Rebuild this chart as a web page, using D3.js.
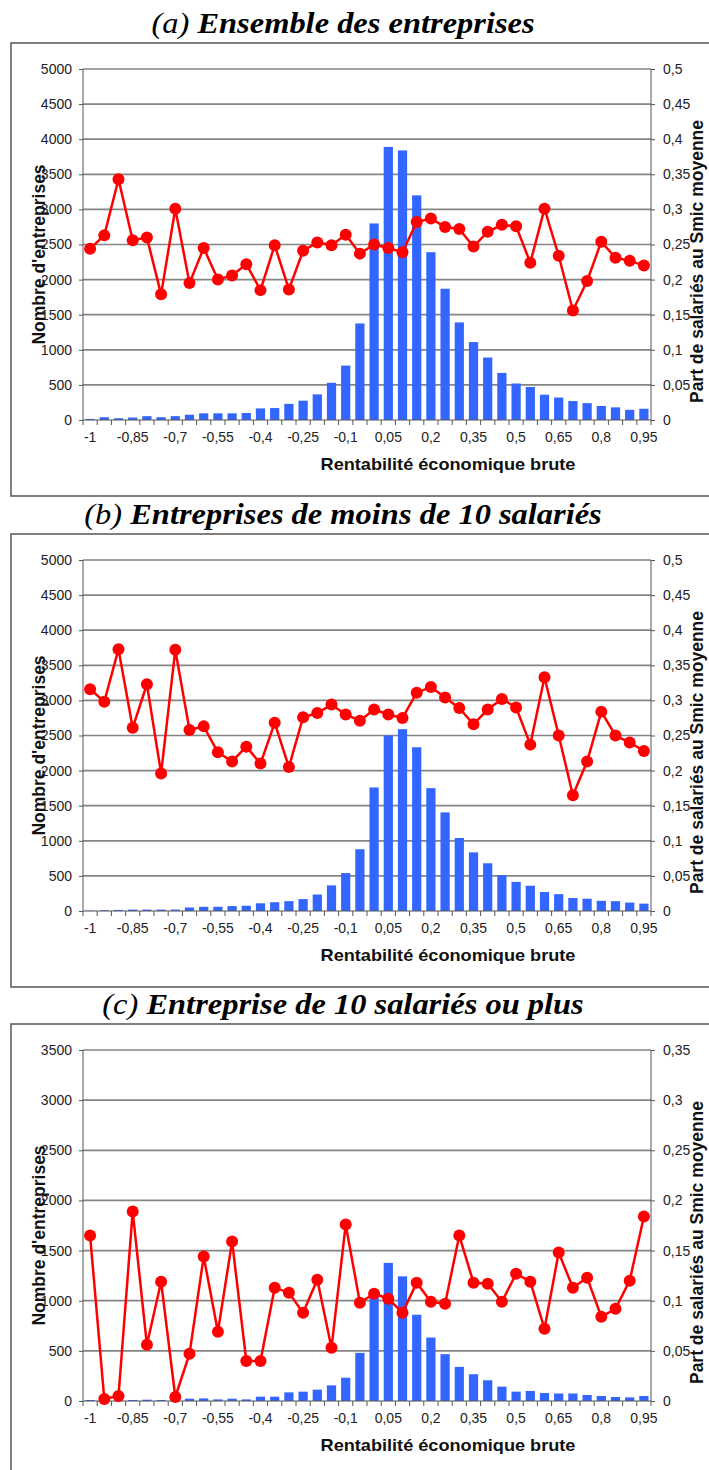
<!DOCTYPE html>
<html>
<head>
<meta charset="utf-8">
<script src="https://cdn.jsdelivr.net/npm/d3@7"></script>
<style>
  body { margin: 0; background: #fff; }
  svg { display: block; }
</style>
</head>
<body>
<div id="chart"></div>
<script>
// categories of gross economic return
var categories = ["-1", "-0,95", "-0,9", "-0,85", "-0,8", "-0,75", "-0,7", "-0,65", "-0,6", "-0,55",
    "-0,5", "-0,45", "-0,4", "-0,35", "-0,3", "-0,25", "-0,2", "-0,15", "-0,1", "-0,05",
    "0", "0,05", "0,1", "0,15", "0,2", "0,25", "0,3", "0,35", "0,4", "0,45",
    "0,5", "0,55", "0,6", "0,65", "0,7", "0,75", "0,8", "0,85", "0,9", "0,95"];

var xTickLabels = ["-1", "-0,85", "-0,7", "-0,55", "-0,4", "-0,25", "-0,1", "0,05", "0,2", "0,35", "0,5", "0,65", "0,8", "0,95"];

// (a) all firms
var barsAll = [15, 40, 25, 35, 55, 40, 55, 75, 95, 95, 95, 100, 165, 170, 230, 275, 365, 530, 775, 1375,
    2800, 3890, 3840, 3200, 2390, 1870, 1390, 1110, 890, 670, 520, 470, 360, 320, 270, 240, 200, 180, 145, 160];
var lineAll = [0.244, 0.263, 0.343, 0.256, 0.260, 0.179, 0.301, 0.195, 0.245, 0.200, 0.206, 0.222, 0.185, 0.249, 0.186, 0.241, 0.253, 0.249, 0.264, 0.237,
    0.250, 0.245, 0.239, 0.282, 0.287, 0.275, 0.272, 0.247, 0.268, 0.278, 0.276, 0.224, 0.301, 0.234, 0.156, 0.198, 0.254, 0.231, 0.227, 0.220];

// (b) less than 10 employees
var barsSmall = [5, 10, 15, 20, 20, 20, 20, 50, 60, 60, 70, 75, 110, 125, 140, 170, 235, 365, 540, 880,
    1760, 2500, 2590, 2333, 1750, 1405, 1040, 835, 680, 510, 415, 360, 270, 240, 185, 175, 145, 140, 120, 105];
var lineSmall = [0.316, 0.298, 0.373, 0.261, 0.323, 0.196, 0.372, 0.258, 0.263, 0.226, 0.213, 0.234, 0.210, 0.268, 0.205, 0.276, 0.282, 0.294, 0.280, 0.271,
    0.287, 0.280, 0.275, 0.311, 0.319, 0.304, 0.289, 0.266, 0.287, 0.302, 0.290, 0.237, 0.333, 0.250, 0.165, 0.213, 0.284, 0.250, 0.240, 0.228];

// (c) 10 employees or more
var barsLarge = [10, 3, 5, 10, 13, 10, 8, 23, 26, 16, 23, 16, 43, 43, 86, 93, 113, 156, 232, 480,
    1030, 1377, 1243, 860, 633, 467, 340, 267, 207, 143, 93, 100, 80, 75, 75, 60, 50, 40, 36, 50];
var lineLarge = [0.165, 0.002, 0.005, 0.189, 0.056, 0.119, 0.004, 0.047, 0.144, 0.069, 0.159, 0.040, 0.040, 0.113, 0.108, 0.088, 0.121, 0.053, 0.176, 0.098,
    0.107, 0.102, 0.088, 0.118, 0.099, 0.097, 0.165, 0.118, 0.117, 0.099, 0.127, 0.119, 0.072, 0.148, 0.113, 0.123, 0.084, 0.092, 0.120, 0.184];

var leftTicks5000 = [0, 500, 1000, 1500, 2000, 2500, 3000, 3500, 4000, 4500, 5000];
var rightTicks05 = [0, 0.05, 0.1, 0.15, 0.2, 0.25, 0.3, 0.35, 0.4, 0.45, 0.5];
var leftTicks3500 = [0, 500, 1000, 1500, 2000, 2500, 3000, 3500];
var rightTicks035 = [0, 0.05, 0.1, 0.15, 0.2, 0.25, 0.3, 0.35];

var width = 709, height = 1470;
var plotLeft = 83, plotRight = 651;
var labelFont = "'Liberation Sans', Arial, sans-serif";

var svg = d3.select("#chart").append("svg")
    .attr("width", width)
    .attr("height", height)
    .style("background", "#fff");

var frFormat = function(d) { return d3.format(".2~f")(d).replace(".", ","); };

function drawPanel(opts) {
    var top = opts.top, bottom = opts.top + 351;
    var g = svg.append("g");

    // title above the frame (original is a bit stretched horizontally)
    var title = g.append("text")
        .attr("transform", "translate(343," + (opts.top - 36) + ") scale(1.12,1)")
        .attr("text-anchor", "middle")
        .style("font-family", "'Liberation Serif', 'Times New Roman', serif")
        .style("font-size", "29px")
        .style("font-style", "italic");
    title.append("tspan").text(opts.letter + " ");
    title.append("tspan").style("font-weight", "bold").text(opts.title);

    // chart frame (cropped on the right in the original)
    g.append("rect")
        .attr("x", 11)
        .attr("y", top - 26)
        .attr("width", 780)
        .attr("height", 102 + 351)
        .attr("fill", "none")
        .attr("stroke", "#555")
        .attr("stroke-width", 1.5);

    var x = d3.scaleBand()
        .domain(categories)
        .range([plotLeft, plotRight])
        .paddingInner(0.35)
        .paddingOuter(0.175);

    var yLeft = d3.scaleLinear().domain([0, opts.leftMax]).range([bottom, top]);
    var yRight = d3.scaleLinear().domain([0, opts.rightMax]).range([bottom, top]);

    // gridlines
    g.selectAll(".grid")
        .data(opts.leftTicks.slice(1))
        .join("line")
        .attr("x1", plotLeft)
        .attr("x2", plotRight)
        .attr("y1", function(d) { return yLeft(d); })
        .attr("y2", function(d) { return yLeft(d); })
        .attr("stroke", "#858585")
        .attr("stroke-width", 1.7);

    // bars
    g.selectAll(".bar")
        .data(opts.bars)
        .join("rect")
        .attr("x", function(d, i) { return x(categories[i]); })
        .attr("y", function(d) { return yLeft(d); })
        .attr("width", x.bandwidth())
        .attr("height", function(d) { return bottom - yLeft(d); })
        .attr("fill", "#3366ff");

    // left axis
    var axL = g.append("g")
        .attr("transform", "translate(" + plotLeft + ",0)")
        .call(d3.axisLeft(yLeft).tickValues(opts.leftTicks).tickSize(4).tickPadding(7).tickFormat(d3.format("d")));

    // right axis
    var axR = g.append("g")
        .attr("transform", "translate(" + plotRight + ",0)")
        .call(d3.axisRight(yRight).tickValues(opts.rightTicks).tickSize(4).tickPadding(8).tickFormat(frFormat));

    [axL, axR].forEach(function(ax) {
        ax.select(".domain").attr("stroke", "#555").attr("d", null);
        ax.selectAll(".tick line").attr("stroke", "#555");
        ax.selectAll("text")
            .style("font-family", labelFont)
            .style("font-size", "14px")
            .attr("fill", "#222");
    });
    axL.append("line").attr("y1", top).attr("y2", bottom).attr("stroke", "#555");
    axR.append("line").attr("y1", top).attr("y2", bottom).attr("stroke", "#555");

    // bottom axis: labels every 3rd category, ticks between categories
    var step = x.step();
    var axB = g.append("g")
        .attr("transform", "translate(0," + bottom + ")")
        .call(d3.axisBottom(x).tickValues(xTickLabels).tickSize(0).tickPadding(12));
    axB.select(".domain").remove();
    axB.selectAll("text")
        .style("font-family", labelFont)
        .style("font-size", "14px")
        .attr("fill", "#222");
    axB.append("line").attr("x1", plotLeft).attr("x2", plotRight).attr("stroke", "#555").attr("stroke-width", 1.2);
    axB.selectAll(".sep")
        .data(d3.range(categories.length + 1))
        .join("line")
        .attr("x1", function(i) { return plotLeft + i * step; })
        .attr("x2", function(i) { return plotLeft + i * step; })
        .attr("y1", 0)
        .attr("y2", 5)
        .attr("stroke", "#555");

    // red line with markers
    var cx = function(d, i) { return x(categories[i]) + x.bandwidth() / 2; };
    g.append("path")
        .datum(opts.line)
        .attr("fill", "none")
        .attr("stroke", "#ff0000")
        .attr("stroke-width", 2.5)
        .attr("d", d3.line().x(cx).y(function(d) { return yRight(d); }));

    g.selectAll(".dot")
        .data(opts.line)
        .join("circle")
        .attr("cx", cx)
        .attr("cy", function(d) { return yRight(d); })
        .attr("r", 6)
        .attr("fill", "#ff0000");

    // axis titles
    var mid = (top + bottom) / 2;
    g.append("text")
        .attr("transform", "translate(45," + (mid + 10) + ") rotate(-90)")
        .attr("text-anchor", "middle")
        .style("font-family", labelFont)
        .style("font-size", "17.5px")
        .style("font-weight", "bold")
        .attr("fill", "#111")
        .text("Nombre d'entreprises");

    g.append("text")
        .attr("transform", "translate(703," + (mid + 17) + ") rotate(-90)")
        .attr("text-anchor", "middle")
        .style("font-family", labelFont)
        .style("font-size", "17.5px")
        .style("font-weight", "bold")
        .attr("fill", "#111")
        .text("Part de salariés au Smic moyenne");

    g.append("text")
        .attr("transform", "translate(448," + (bottom + 50) + ") scale(1.1,1)")
        .attr("text-anchor", "middle")
        .style("font-family", labelFont)
        .style("font-size", "16.5px")
        .style("font-weight", "bold")
        .attr("fill", "#111")
        .text("Rentabilité économique brute");
}

drawPanel({ top: 69, letter: "(a)", title: "Ensemble des entreprises",
    bars: barsAll, line: lineAll, leftMax: 5000, rightMax: 0.5, leftTicks: leftTicks5000, rightTicks: rightTicks05 });
drawPanel({ top: 560, letter: "(b)", title: "Entreprises de moins de 10 salariés",
    bars: barsSmall, line: lineSmall, leftMax: 5000, rightMax: 0.5, leftTicks: leftTicks5000, rightTicks: rightTicks05 });
drawPanel({ top: 1050, letter: "(c)", title: "Entreprise de 10 salariés ou plus",
    bars: barsLarge, line: lineLarge, leftMax: 3500, rightMax: 0.35, leftTicks: leftTicks3500, rightTicks: rightTicks035 });
</script>
</body>
</html>
